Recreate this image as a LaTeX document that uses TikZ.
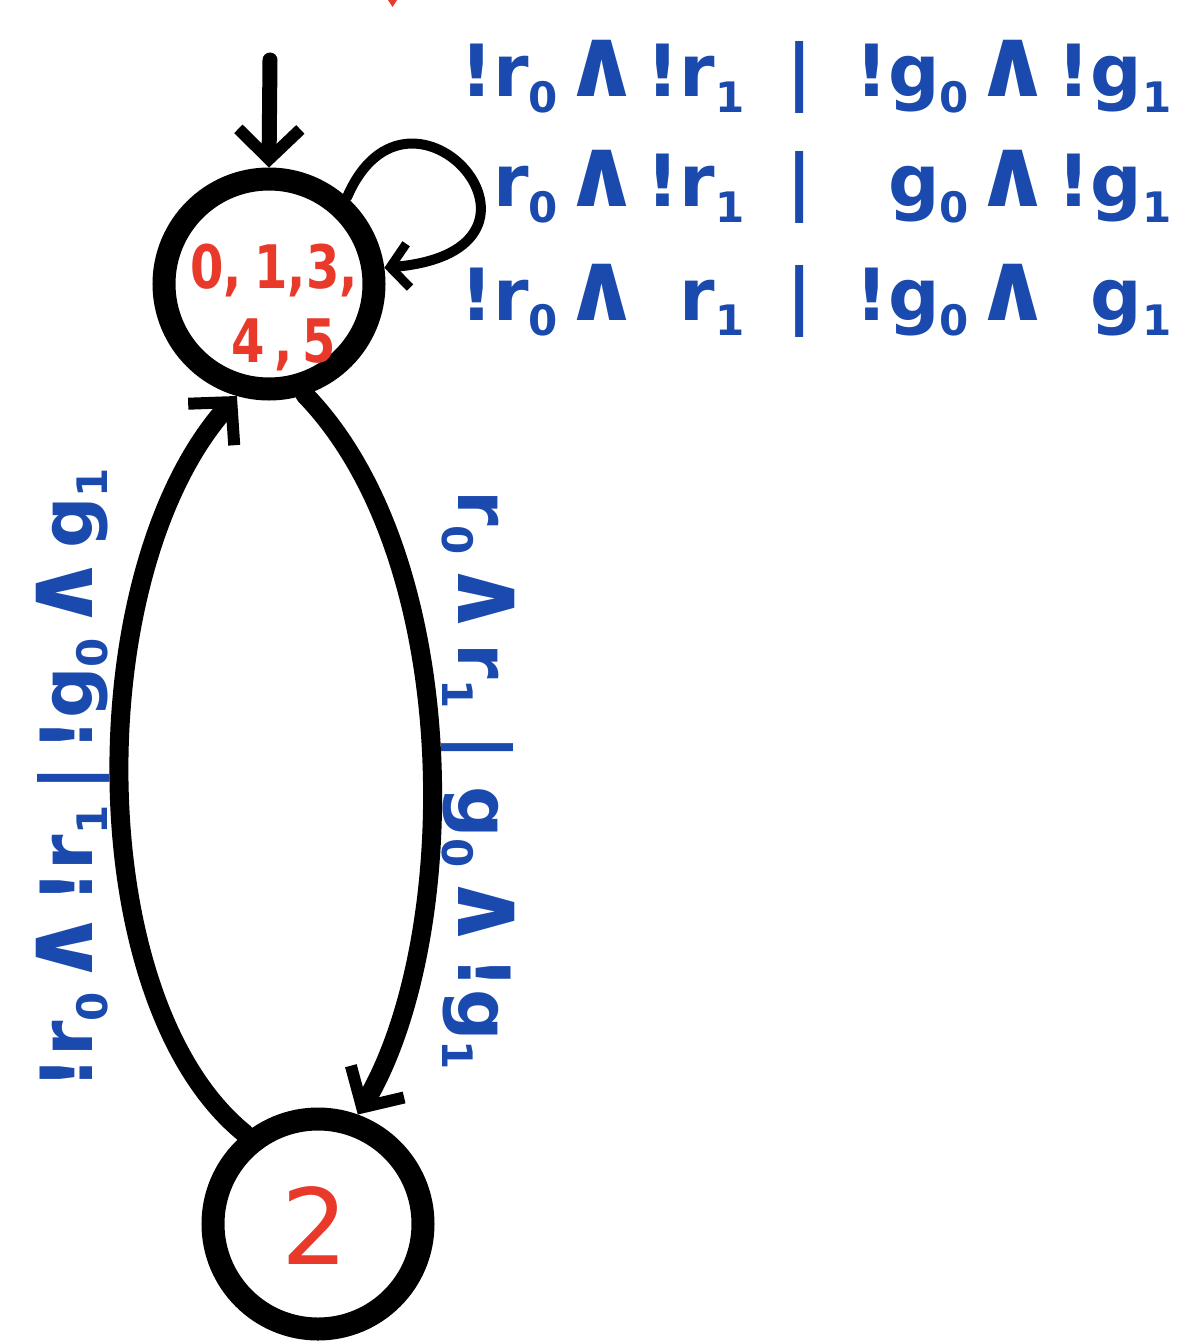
\documentclass[tikz,border=0pt]{standalone}
\usepackage{fontspec}
\setmainfont{DejaVu Sans}
\usetikzlibrary{arrows.meta}
\definecolor{ink}{HTML}{1B4AAE}
\definecolor{digit}{HTML}{E8392A}
% subscript index and conjunction sign for the guard labels
\newcommand\sub[1]{\raisebox{-0.22em}{\fontsize{42}{42}\selectfont #1}}
\newcommand\conj{\hspace{5pt}\scalebox{1.35}{∧}\hspace{5pt}}
\begin{document}
\begin{tikzpicture}[x=1pt,y=1pt,
  state/.style={circle, draw, line width=23pt, minimum size=210pt, inner sep=0pt},
  edge/.style={line width=19pt, line cap=round,
    -{Straight Barb[length=30pt,width=62pt,line width=12pt]}},
  loopedge/.style={line width=10pt, line cap=round,
    -{Straight Barb[length=18pt,width=44pt,line width=9pt]}},
  lbl/.style={text=ink, font=\fontsize{72}{72}\selectfont\bfseries, inner sep=0pt},
  statetext/.style={text=digit, font=\fontsize{60}{60}\selectfont\bfseries, inner sep=0pt},
  bigdigit/.style={text=digit, font=\fontsize{105}{105}\selectfont, inner sep=0pt}]
\useasboundingbox (0,0) rectangle (1182,-1343);
\fill[white] (0,0) rectangle (1182,-1343);
\fill[digit] (388,0) -- (397,0) -- (392.5,-7) -- cycle;

% states
\node[state] (q0) at (269,-284) {};
\node[state] (q1) at (318,-1224) {};
\node[statetext, anchor=base] (q0a) at (274,-288) {\scalebox{0.8}[1]{0,\hspace{16pt}1,3,}};
\node[statetext, anchor=base] (q0b) at (284,-362) {\scalebox{0.8}[1]{4\hspace{12pt},\hspace{12pt}5}};
\node[bigdigit] (q1t) at (315,-1226) {2};

% initial arrow
\coordinate (init) at (270,-60);
\draw[edge, line width=15pt] (init) -- (q0.90);

% transitions
\draw[loopedge] (q0.48) .. controls (410,-50) and (585,-250) .. (q0.8);
\draw[edge] (q0.-72) .. controls (465,-560) and (462,-940) .. (q1.70);
\draw[edge] (q1.129) .. controls (80,-1000) and (80,-570) .. (q0.-106);

% self-loop guards
\node[lbl, anchor=base west] (g1a) at (460,-97) {!r\sub0\conj!r\sub1};
\node[lbl, anchor=base] (g1b) at (800,-97) {|};
\node[lbl, anchor=base west] (g1c) at (855,-97) {!g\sub0\conj!g\sub1};
\node[lbl, anchor=base west] (g2a) at (460,-207) {\phantom{!}r\sub0\conj!r\sub1};
\node[lbl, anchor=base] (g2b) at (800,-207) {|};
\node[lbl, anchor=base west] (g2c) at (855,-207) {\phantom{!}g\sub0\conj!g\sub1};
\node[lbl, anchor=base west] (g3a) at (460,-320) {!r\sub0\conj\phantom{!}r\sub1};
\node[lbl, anchor=base] (g3b) at (800,-320) {|};
\node[lbl, anchor=base west] (g3c) at (855,-320) {!g\sub0\conj\phantom{!}g\sub1};

% guards on the two transitions between the states
\node[lbl, rotate=-90, anchor=base west] (e01) at (458,-490)
  {r\sub0\conj r\sub1\hspace{26pt}|\hspace{26pt}g\sub0\conj!g\sub1};
\node[lbl, rotate=90, anchor=base west] (e10) at (92,-1090)
  {!r\sub0\conj!r\sub1\hspace{14pt}|\hspace{14pt}!g\sub0\conj g\sub1};
\end{tikzpicture}
\end{document}
